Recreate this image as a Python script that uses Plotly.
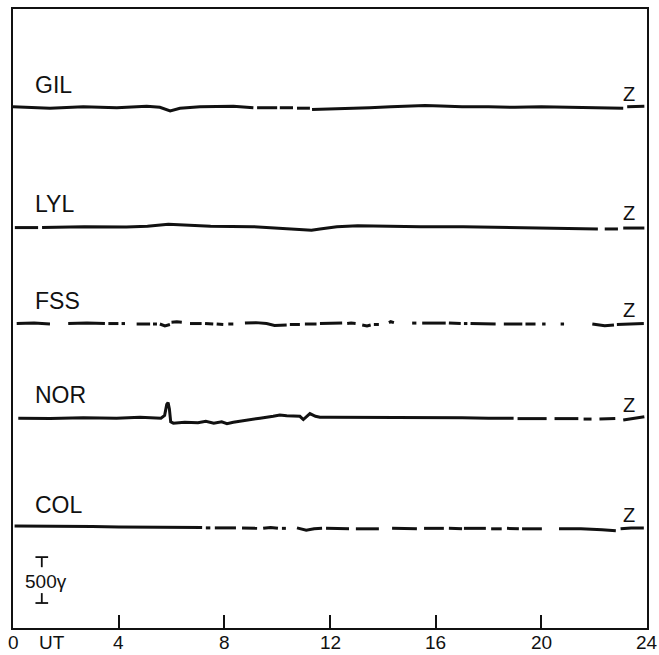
import plotly.graph_objects as go

# ---------------- data (UT hours, deviations in gamma) ----------------
stations = ["GIL", "LYL", "FSS", "NOR", "COL"]
station_offset = [5665, 4370, 3315, 2285, 1085]   # vertical stacking of traces (gamma)

gil_t = [0.0, 1.4, 2.66, 3.93, 5.06, 5.56, 5.95, 6.32, 7.08, 8.34, 9.1, None,
         9.24, 10.0, None, 10.1, 10.6, None, 10.75, 11.24, None,
         11.32, 12.0, 12.7, 13.5, 14.3, 15.0, 15.6, 16.2, 17.0, 18.0, 19.0, 20.0,
         21.0, 22.0, 22.6, 23.1, None, 23.25, 23.9]
gil_v = [10, -5, 10, 0, 15, 5, -35, -5, 10, 15, 0, None,
         0, 0, None, 0, 0, None, -5, -5, None,
         -20, -15, -5, 0, 10, 20, 25, 20, 10, 10, 5, 10,
         5, 0, -10, -5, None, 10, 15]

lyl_t = [0.07, 0.95, None, 1.1, 2.7, 4.29, 5.09, 5.88, 6.68, 7.48, 9.07, 9.87,
         10.66, 11.3, 11.62, 12.26, 13.05, 13.85, 15.44, 17.04, 18.63, 20.2,
         22.14, None, 22.4, 22.9, None, 23.1, 23.9]
lyl_v = [-10, -10, None, -10, 0, -5, 5, 25, 15, 5, 0, -15,
         -25, -40, -25, 0, 10, 5, 0, 0, -10, -15,
         -25, None, -25, -25, None, -15, -15]

fss_t = [0.14, 0.8, 1.40, None, 2.09, 2.8, 3.48, None, 3.61, 3.99, None,
         4.11, 4.24, None, 4.68, 5.19, None, 5.30, 5.45, None,
         5.56, 5.75, 5.94, None, 6.0, 6.2, 6.39, None, 6.70, 7.14, None,
         7.27, 7.58, None, 7.71, 7.96, None, 8.15, 8.34, None,
         8.78, 9.2, 9.6, 9.9, 10.36, None, 10.48, 10.86, None,
         11.05, 11.49, None, 11.62, 12.0, 12.46, None, 12.65, 12.8, 12.97, None,
         13.22, 13.4, 13.54, None, 13.66, 13.85, None, 14.23, 14.3, 14.42, None,
         15.11, 15.27, None, 15.49, 16.38, None, 16.5, 16.95, None,
         17.07, 17.2, None, 17.32, 18.27, None, 18.58, 19.28, None,
         19.4, 19.78, None, 20.03, 20.16, None, 20.73, 20.86, None,
         21.93, 22.4, 22.75, None, 22.86, 23.4, 23.88]
fss_v = [0, 5, -5, None, 0, 5, 0, None, 0, 0, None,
         0, 0, None, -5, -5, None, -5, -5, None,
         -5, -25, -10, None, 15, 20, 15, None, 0, 0, None,
         0, -5, None, -5, -10, None, -5, -5, None,
         5, 10, 0, -20, -15, None, -10, -10, None,
         -5, -5, None, 0, 5, 5, None, 0, 5, 0, None,
         -15, -25, -15, None, -10, -10, None, 10, 20, 10, None,
         5, 5, None, 5, 5, None, 5, 0, None,
         0, 0, None, 0, -5, None, -5, -5, None,
         -5, -5, None, -5, -5, None, -5, -5, None,
         -5, -25, -15, None, -10, -5, 0]

nor_t = [0.2, 1.4, 2.66, 3.92, 4.81, 5.6, 5.74, 5.82, 5.87, 5.92, 5.97, 6.07,
         6.5, 7.0, 7.3, 7.6, 7.9, 8.1, 8.34, 8.84, 9.35, 9.85, 10.1, 10.36,
         10.86, 10.99, 11.24, 11.45, 11.62, 12.0, 13.0, 14.0, 15.0, 16.0, 17.0,
         18.0, 18.95, None, 19.1, 20.2, None, 20.5, 21.4, None, 21.6, 21.9, None,
         22.2, 22.8, None, 23.1, 23.5, 23.9]
nor_v = [0, -5, 5, 0, 10, 0, 30, 150, 170, 100, -40, -55,
         -45, -50, -35, -55, -40, -60, -45, -20, 0, 20, 35, 25,
         20, -15, 50, 20, 10, 10, 10, 5, 10, 5, 5,
         0, 0, None, -5, -5, None, -5, -5, None, -10, -10, None,
         -10, -5, None, -20, 0, 15]

col_t = [0.06, 1.0, 2.0, 3.0, 4.0, 5.0, 6.0, 7.16, None, 7.3, 7.47, None,
         7.64, 8.44, None, 8.67, 9.24, None, 9.47, 9.75, 10.03, None,
         10.18, 10.33, None, 10.75, 11.1, 11.4, 11.7, None, 11.85, 12.72, None,
         12.98, 13.85, None, 14.35, 15.29, None, 15.56, 16.31, None,
         16.5, 17.0, None, 17.07, 17.9, None, 18.1, 18.5, None,
         18.7, 19.15, None, 19.27, 20.02, None, 20.67, 21.5, 22.3, 22.82, None,
         23.0, 23.4, 23.88]
col_v = [25, 25, 20, 20, 15, 15, 10, 10, None, 5, 5, None,
         5, 5, None, 5, 0, None, 0, 10, 0, None,
         0, 0, None, 5, -20, -5, 0, None, 0, -5, None,
         -5, -5, None, 0, -5, None, 0, 0, None,
         0, -5, None, 0, 0, None, -5, -5, None,
         0, -5, None, -5, -5, None, -5, -5, -15, -25, None,
         -5, 5, 5]

station_times = [gil_t, lyl_t, fss_t, nor_t, col_t]
station_values = [gil_v, lyl_v, fss_v, nor_v, col_v]

x_ticks = [0, 4, 8, 12, 16, 20, 24]
x_tick_text = ["0", "4", "8", "12", "16", "20", "24"]
x_unit_label = "UT"
x_unit_pos = 1.48

scale_bottom = 272        # gamma
scale_length = 500        # gamma (the 500 gamma scale bar)

# ---------------- figure ----------------
INK = "#111111"
FONT = "Liberation Sans"
fig = go.Figure()

for name, off, ts, vs in zip(stations, station_offset, station_times, station_values):
    ys = [None if v is None else off + v for v in vs]
    fig.add_trace(go.Scatter(x=ts, y=ys, mode="lines", connectgaps=False,
                             line=dict(color=INK, width=3), hoverinfo="skip",
                             showlegend=False, name=name))
    fig.add_annotation(x=0.75, y=off + 250, xref="x", yref="y", text=name,
                       showarrow=False, xanchor="left", yanchor="middle",
                       font=dict(family=FONT, size=23, color=INK))
    fig.add_annotation(x=23.32, y=off + 145, xref="x", yref="y", text="Z",
                       showarrow=False, xanchor="center", yanchor="middle",
                       font=dict(family=FONT, size=20, color=INK))

# 500 gamma scale bar (I-beam split by its label)
sb_x = 1.09
cap = 0.24
top = scale_bottom + scale_length
fig.add_trace(go.Scatter(
    x=[sb_x - cap, sb_x + cap, None, sb_x, sb_x, None, sb_x, sb_x, None, sb_x - cap, sb_x + cap],
    y=[top, top, None, top, top - 110, None, scale_bottom + 108, scale_bottom, None,
       scale_bottom, scale_bottom],
    mode="lines", line=dict(color=INK, width=1.8), hoverinfo="skip", showlegend=False))
fig.add_annotation(x=0.36, y=scale_bottom + scale_length / 2 - 15, xref="x", yref="y",
                   text="500γ", showarrow=False, xanchor="left", yanchor="middle",
                   font=dict(family=FONT, size=19, color=INK))

# x tick labels (placed on the x scale, just below the frame)
label_y = -0.0235
for tv, tt in zip(x_ticks + [x_unit_pos], x_tick_text + [x_unit_label]):
    fig.add_annotation(x=tv, y=label_y, xref="x", yref="paper", text=tt,
                       showarrow=False, xanchor="center", yanchor="middle",
                       font=dict(family=FONT, size=19, color=INK))

fig.update_xaxes(range=[0, 24], tickvals=x_ticks, showticklabels=False,
                 ticks="inside", ticklen=13, tickwidth=1.5, tickcolor=INK,
                 showline=True, linecolor=INK, linewidth=1.6, mirror=True,
                 showgrid=False, zeroline=False, automargin=False)
fig.update_yaxes(range=[0, 6740], showticklabels=False, ticks="",
                 showline=True, linecolor=INK, linewidth=1.6, mirror=True,
                 showgrid=False, zeroline=False, automargin=False)

fig.update_layout(width=659, height=655, autosize=False,
                  margin=dict(l=13, r=12, t=9, b=27, pad=0, autoexpand=False),
                  paper_bgcolor="white", plot_bgcolor="white")

fig.write_html("out.html", config={"displayModeBar": False},
               post_script="document.body.style.margin='0';document.body.style.overflow='hidden';")
